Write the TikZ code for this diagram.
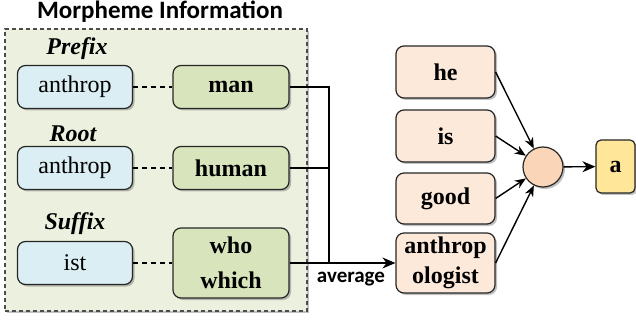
\documentclass[tikz,border=0pt]{standalone}
\usepackage{fontspec}
\setmainfont{Liberation Serif}
\newfontfamily\calib{Carlito}
\usetikzlibrary{shadows,arrows.meta}
\definecolor{bluefill}{HTML}{DAEEF3}
\definecolor{greenfill}{HTML}{D8E4BC}
\definecolor{outerfill}{HTML}{EBF1DE}
\definecolor{peachfill}{HTML}{FCE9DA}
\definecolor{circfill}{HTML}{FAD5B8}
\definecolor{yelfill}{HTML}{FFE699}
\tikzset{
  shad/.style={drop shadow={shadow xshift=1pt,shadow yshift=-1pt,opacity=0.35,fill=black!70}},
  box/.style={draw=black!85,line width=0.6pt,rounded corners=4pt,inner sep=0pt,align=center,shad},
  bluebox/.style={box,fill=bluefill,minimum width=57.5pt,minimum height=21.5pt,font=\fontsize{12}{14}\selectfont},
  greenbox/.style={box,fill=greenfill,minimum width=58pt,minimum height=21.5pt,font=\fontsize{12}{17.5}\selectfont\bfseries},
  peachbox/.style={box,fill=peachfill,minimum width=49.5pt,minimum height=26pt,font=\fontsize{12}{15}\selectfont\bfseries},
  lbl/.style={font=\fontsize{12}{14}\selectfont\bfseries\itshape,inner sep=0pt},
  conn/.style={line width=0.7pt,draw=black},
  dashconn/.style={line width=0.6pt,draw=black,dash pattern=on 2.5pt off 2pt},
  arr/.style={conn,-{Stealth[length=6.5pt,width=5.5pt]}},
  sarr/.style={conn,-{Stealth[length=5.5pt,width=4.5pt]}},
}
\begin{document}
\begin{tikzpicture}[x=0.5pt,y=-0.5pt]
\useasboundingbox (0,0) rectangle (636,320);
% outer region
\node[draw=black!70,fill=outerfill,line width=0.6pt,dash pattern=on 2pt off 1.5pt,shad,
  minimum width=151pt,minimum height=141pt,inner sep=0pt] (outer) at (156,170) {};
\node[font=\calib\fontsize{12.5}{14}\selectfont\bfseries,inner sep=0pt] (title) at (160,12) {Morpheme Information};
% labels
\node[lbl] (prefix) at (77,49) {Prefix};
\node[lbl] (root) at (73,134) {Root};
\node[lbl] (suffix) at (75,224) {Suffix};
% blue boxes
\node[bluebox] (b1) at (75,87) {anthrop};
\node[bluebox] (b2) at (75,168) {anthrop};
\node[bluebox] (b3) at (75,263) {ist};
% green boxes
\node[greenbox] (g1) at (231,87) {man};
\node[greenbox] (g2) at (231,168) {human};
\node[greenbox,minimum height=35pt] (g3) at (231,263) {who\\which};
% peach boxes
\node[peachbox] (he) at (445.5,72) {he};
\node[peachbox] (is) at (445.5,136) {is};
\node[peachbox,minimum height=25.5pt] (good) at (445.5,198.5) {good};
\node[peachbox,minimum height=30pt] (anth) at (445.5,263) {anthrop\\ologist};
% circle and output
\node[circle,draw=black!85,line width=0.6pt,fill=circfill,minimum size=20pt,inner sep=0pt,shad] (c) at (543,167) {};
\node[box,fill=yelfill,minimum width=19.5pt,minimum height=26.5pt,rounded corners=2.5pt,font=\fontsize{12}{14}\selectfont\bfseries] (a) at (615.5,166.5) {a};
% connectors
\draw[dashconn] (b1.east) -- (g1.west);
\draw[dashconn] (b2.east) -- (g2.west);
\draw[dashconn] (b3.east) -- (g3.west);
\coordinate (j) at (329,263);
\draw[conn] (g1.east) -| (j);
\draw[conn] (g2.east) -- (g2.east -| j);
\draw[arr] (g3.east) -- (anth.west);
\node[font=\calib\fontsize{10.5}{12}\selectfont\bfseries,inner sep=0pt] (avg) at (351,279) {average};
\draw[sarr] (he.east) -- (c);
\draw[sarr] (is.east) -- (c);
\draw[sarr] (good.east) -- (c);
\draw[sarr] (anth.east) -- (c);
\draw[arr] (c) -- (a);
\end{tikzpicture}
\end{document}
